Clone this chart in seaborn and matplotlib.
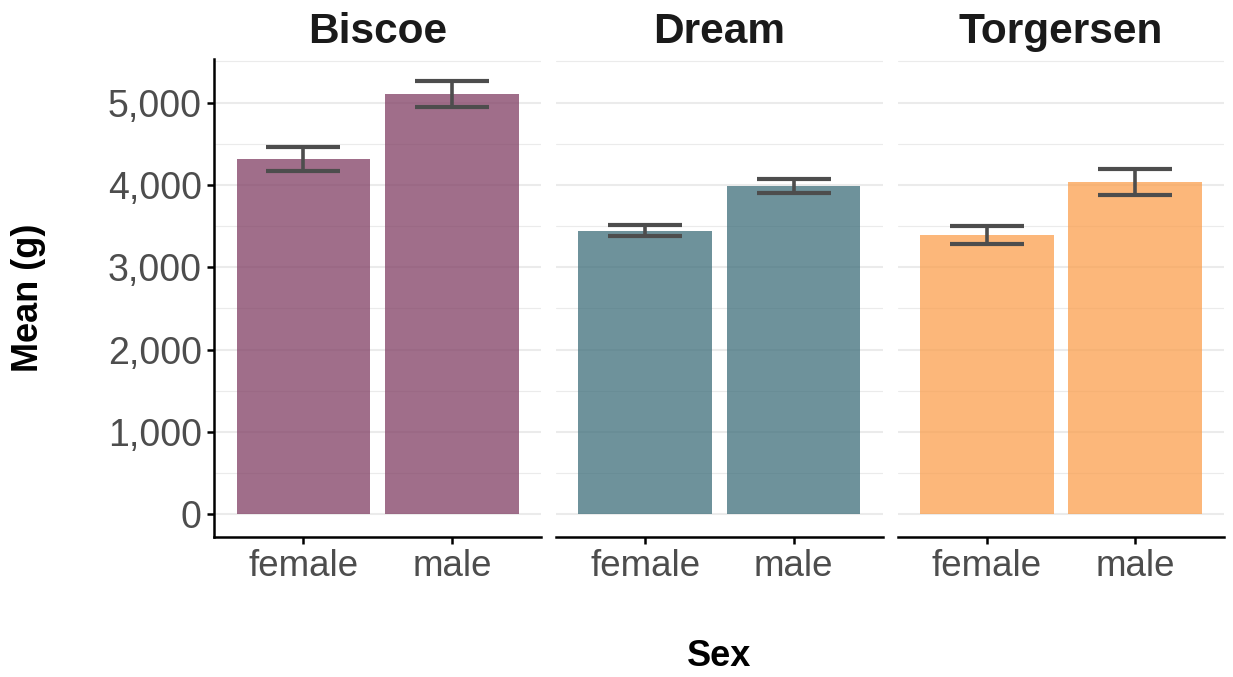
import matplotlib
matplotlib.use("Agg")
import matplotlib.pyplot as plt
from matplotlib.ticker import FuncFormatter, MultipleLocator
import seaborn as sns
import pandas as pd

# Mean body mass (g) by island and sex, with error half-widths
islands = ["Biscoe", "Dream", "Torgersen"]
sexes = ["female", "male"]
biscoe_mean = [4319, 5105]
dream_mean = [3446, 3987]
torgersen_mean = [3396, 4035]
biscoe_err = [147, 158]
dream_err = [68, 88]
torgersen_err = [109, 161]
island_colors = ["#803E63", "#3E6E7A", "#FB9F4E"]
y_ticks = [0, 1000, 2000, 3000, 4000, 5000]

means = [biscoe_mean, dream_mean, torgersen_mean]
errs = [biscoe_err, dream_err, torgersen_err]
df = pd.DataFrame(
    [
        {"island": isl, "sex": s, "mean": m, "err": e}
        for isl, ms, es in zip(islands, means, errs)
        for s, m, e in zip(sexes, ms, es)
    ]
)

sns.set_style("white")
plt.rcParams["font.family"] = ["Liberation Sans", "DejaVu Sans"]

fig = plt.figure(figsize=(12.33, 6.77), dpi=100)

W, H = 1233, 677
panel_left = [214.3, 556.0, 897.7]
panel_w = 326.7
panel_top, panel_bot = 59.3, 536.7

grid_col = "#EBEBEB"
text_grey = "#4D4D4D"
axes = []
for i, isl in enumerate(islands):
    ax = fig.add_axes([panel_left[i] / W, 1 - panel_bot / H,
                       panel_w / W, (panel_bot - panel_top) / H])
    axes.append(ax)
    sub = df[df["island"] == isl]
    ax.set_axisbelow(True)
    sns.barplot(data=sub, x="sex", y="mean", order=sexes, color=island_colors[i],
                alpha=0.75, width=0.9, errorbar=None, linewidth=0, ax=ax,
                saturation=1)
    ax.errorbar(x=range(len(sexes)), y=sub["mean"].values, yerr=sub["err"].values,
                fmt="none", ecolor=text_grey, elinewidth=2.6, capsize=26.7,
                capthick=3.0, zorder=5)
    ax.set_xlim(-0.6, 1.6)
    ax.set_ylim(-272, 5525)
    ax.yaxis.set_major_locator(plt.FixedLocator(y_ticks))
    ax.yaxis.set_minor_locator(MultipleLocator(500))
    ax.yaxis.set_major_formatter(FuncFormatter(lambda v, p: f"{v:,.0f}"))
    ax.grid(axis="y", which="major", color=grid_col, linewidth=1.5)
    ax.grid(axis="y", which="minor", color=grid_col, linewidth=0.8)
    ax.grid(axis="x", visible=False)
    for side in ["top", "right"]:
        ax.spines[side].set_visible(False)
    ax.spines["bottom"].set_linewidth(1.8)
    ax.spines["bottom"].set_color("black")
    if i == 0:
        ax.spines["left"].set_linewidth(1.8)
        ax.spines["left"].set_color("black")
        ax.tick_params(axis="y", which="major", left=True, length=5, width=1.8,
                       color="black", labelsize=27, labelcolor=text_grey, pad=4)
        ax.tick_params(axis="y", which="minor", left=False)
    else:
        ax.spines["left"].set_visible(False)
        ax.tick_params(axis="y", which="both", left=False, labelleft=False)
    ax.tick_params(axis="x", bottom=True, length=5, width=1.8, color="black",
                   labelsize=26.5, labelcolor=text_grey, pad=4)
    ax.set_xlabel("")
    ax.set_ylabel("")
    ax.set_title(isl, fontsize=30.5, fontweight="bold", color="#1A1A1A", pad=12)

fig.text(29 / W, 1 - 298 / H, "Mean (g)", rotation=90, ha="center", va="center",
         fontsize=26, fontweight="bold", color="black")
fig.text(719 / W, 1 - 656 / H, "Sex", ha="center", va="center",
         fontsize=26, fontweight="bold", color="black")

fig.savefig("out.png", dpi=100)
